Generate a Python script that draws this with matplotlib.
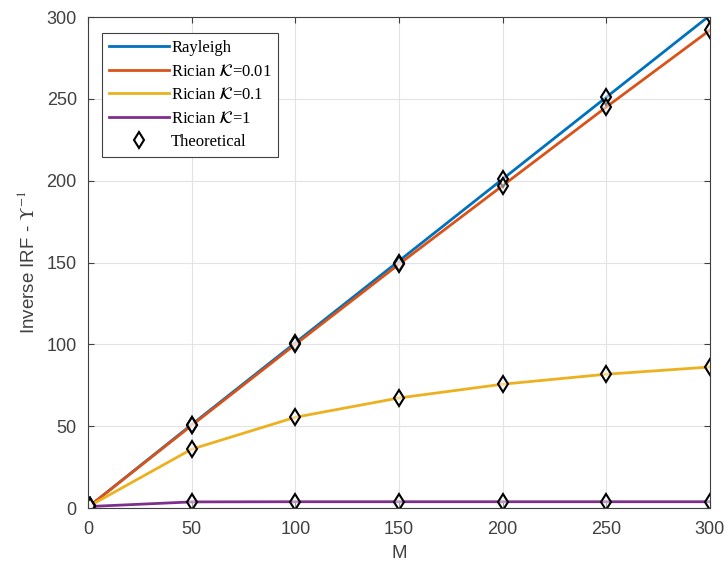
import numpy as np
import matplotlib.pyplot as plt

plt.rcParams['mathtext.fontset'] = 'stix'

# number of antennas
M = [1, 50, 100, 150, 200, 250, 300]

# simulated inverse IRF per channel model
rayleigh = [1.5, 51, 101, 151, 201, 251, 301]
rician_001 = [1.5, 50.5, 100, 149, 197, 245, 292]
rician_01 = [1.5, 36, 55.5, 67.3, 75.7, 81.8, 86.2]
rician_1 = [1.0, 3.8, 3.9, 3.9, 3.9, 3.9, 3.9]

# closed-form values at the same points
theo_rayleigh = [1.5, 51, 101, 150, 201, 251, 301]
theo_rician_001 = [1.5, 50.5, 100, 149, 197, 245, 292]
theo_rician_01 = [1.5, 36, 55.5, 67.3, 75.7, 81.8, 86.2]
theo_rician_1 = [1.0, 3.8, 3.9, 3.9, 3.9, 3.9, 3.9]

labels = ['Rayleigh', r'Rician $\mathcal{K}$=0.01', r'Rician $\mathcal{K}$=0.1', r'Rician $\mathcal{K}$=1']
colors = ['#0072BD', '#D95319', '#EDB120', '#7E2F8E']

fig = plt.figure(figsize=(7.24, 5.69), dpi=100)
ax = fig.add_axes([0.1215, 0.107, 0.859, 0.863])

for y, c, lab in zip([rayleigh, rician_001, rician_01, rician_1], colors, labels):
    ax.plot(M, y, color=c, linewidth=2, label=lab)

first = True
for t in [theo_rayleigh, theo_rician_001, theo_rician_01, theo_rician_1]:
    ax.plot(M, t, linestyle='none', marker='d', markersize=8, markerfacecolor=(1, 1, 1, 0.5),
            markeredgecolor='black', markeredgewidth=1.5,
            label='Theoretical' if first else None)
    first = False

ax.set_xlim(0, 300)
ax.set_ylim(0, 300)
ax.set_xticks(np.arange(0, 301, 50))
ax.set_yticks(np.arange(0, 301, 50))
ax.grid(True, color='#e3e3e3', linewidth=0.8)
ax.tick_params(direction='in', labelsize=13, colors='#404040', length=4, top=True, right=True,
               labelfontfamily='Liberation Sans')
ax.tick_params(axis='x', pad=9)
ax.tick_params(axis='y', pad=8)
for s in ax.spines.values():
    s.set_color('#404040')
    s.set_linewidth(0.8)

ax.set_xlabel('M', fontsize=13.5, family='Liberation Sans', color='#404040', labelpad=5)
ax.set_ylabel(r'Inverse IRF - $\Upsilon^{-1}$', fontsize=13.5, family='Liberation Sans', color='#404040',
              labelpad=6)

leg = ax.legend(loc='upper left', bbox_to_anchor=(0.0225, 0.967), fancybox=False, edgecolor='#404040',
                prop={'family': 'Liberation Serif', 'size': 12}, handlelength=3.6, handletextpad=0.15,
                labelspacing=0.45, borderpad=0.4, borderaxespad=0, framealpha=1)
leg.get_frame().set_linewidth(0.8)

plt.savefig('out.png', dpi=100)
